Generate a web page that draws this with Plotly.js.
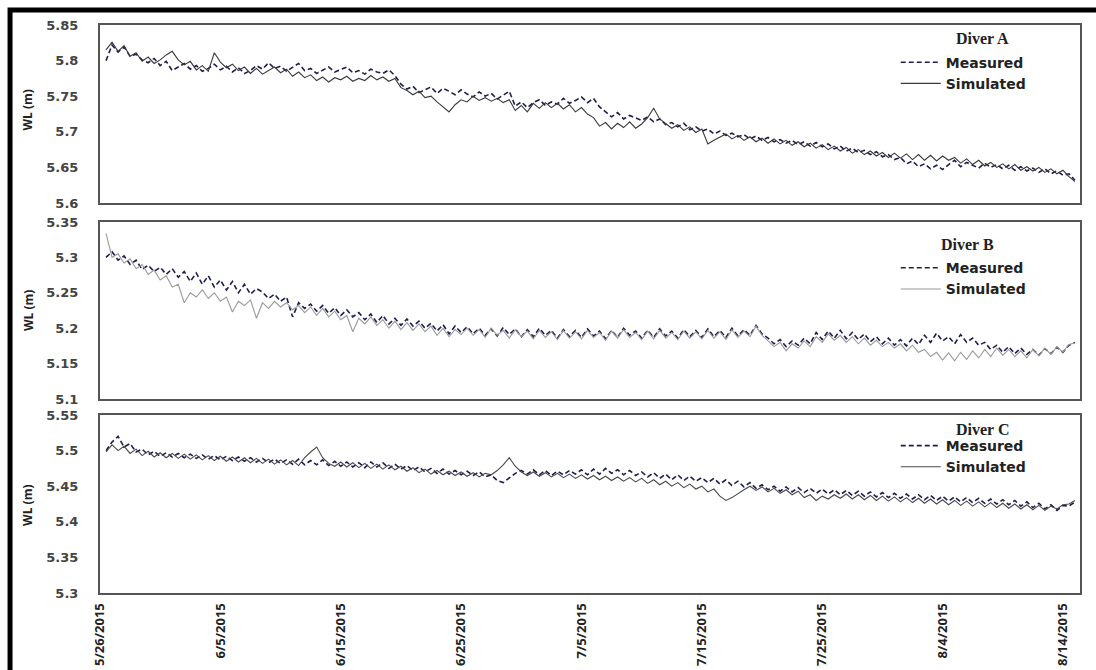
<!DOCTYPE html>
<html><head><meta charset="utf-8">
<script src="https://cdn.plot.ly/plotly-3.0.1.min.js"></script>
<style>html,body{margin:0;padding:0;background:#fff}#chart{width:1096px;height:670px}</style>
</head><body><div id="chart"></div>
<script>
// time index: first sample 2015-05-26 12:00, one sample every 12 hours
const startTime = Date.UTC(2015, 4, 26, 12, 0, 0);
const stepHours = 12;

const measuredA = [
5.800,5.822,5.812,5.819,5.806,5.809,5.801,5.797,5.803,5.793,
5.799,5.786,5.791,5.796,5.788,5.793,5.785,5.789,5.795,5.787,
5.792,5.784,5.790,5.782,5.786,5.793,5.788,5.797,5.789,5.792,
5.785,5.791,5.796,5.786,5.789,5.782,5.787,5.791,5.784,5.788,
5.791,5.783,5.786,5.781,5.788,5.784,5.782,5.787,5.779,5.767,
5.760,5.764,5.755,5.759,5.763,5.754,5.761,5.757,5.752,5.759,
5.753,5.749,5.756,5.750,5.754,5.746,5.751,5.757,5.736,5.742,
5.734,5.741,5.745,5.737,5.742,5.739,5.747,5.740,5.744,5.749,
5.741,5.747,5.735,5.728,5.721,5.727,5.718,5.723,5.720,5.716,
5.721,5.714,5.718,5.710,5.713,5.707,5.712,5.703,5.707,5.701,
5.704,5.697,5.701,5.695,5.698,5.693,5.696,5.690,5.694,5.688,
5.692,5.686,5.689,5.684,5.688,5.682,5.686,5.680,5.685,5.679,
5.683,5.676,5.680,5.673,5.677,5.671,5.674,5.668,5.672,5.665,
5.668,5.661,5.664,5.655,5.659,5.651,5.655,5.648,5.653,5.647,
5.654,5.660,5.651,5.657,5.653,5.649,5.656,5.650,5.654,5.648,
5.653,5.646,5.651,5.645,5.649,5.643,5.648,5.641,5.645,5.639,
5.641,5.632];
const simulatedA = [
5.815,5.826,5.813,5.821,5.806,5.811,5.799,5.805,5.796,5.801,
5.808,5.813,5.801,5.794,5.799,5.787,5.793,5.785,5.811,5.798,
5.790,5.795,5.786,5.791,5.782,5.789,5.781,5.786,5.791,5.783,
5.788,5.778,5.784,5.776,5.780,5.772,5.777,5.770,5.776,5.773,
5.778,5.771,5.775,5.772,5.779,5.773,5.777,5.771,5.775,5.762,
5.758,5.752,5.757,5.748,5.750,5.742,5.735,5.728,5.738,5.745,
5.742,5.750,5.744,5.748,5.743,5.747,5.741,5.745,5.730,5.737,
5.728,5.740,5.733,5.741,5.734,5.740,5.732,5.738,5.728,5.734,
5.725,5.720,5.708,5.713,5.704,5.712,5.706,5.714,5.705,5.711,
5.720,5.733,5.718,5.712,5.705,5.710,5.702,5.707,5.699,5.704,
5.683,5.688,5.692,5.697,5.690,5.695,5.688,5.693,5.686,5.691,
5.684,5.690,5.683,5.688,5.681,5.686,5.679,5.684,5.677,5.682,
5.675,5.680,5.673,5.678,5.670,5.675,5.668,5.673,5.666,5.671,
5.664,5.670,5.663,5.669,5.661,5.668,5.660,5.667,5.659,5.666,
5.660,5.664,5.656,5.662,5.654,5.660,5.652,5.657,5.650,5.655,
5.648,5.654,5.646,5.651,5.645,5.650,5.643,5.648,5.641,5.646,
5.637,5.630];

const measuredB = [
5.300,5.308,5.296,5.302,5.290,5.296,5.283,5.289,5.280,5.286,
5.276,5.284,5.272,5.280,5.266,5.278,5.262,5.274,5.258,5.268,
5.254,5.266,5.250,5.262,5.248,5.256,5.251,5.242,5.248,5.238,
5.244,5.216,5.236,5.228,5.234,5.224,5.232,5.221,5.229,5.218,
5.226,5.216,5.222,5.212,5.220,5.208,5.218,5.206,5.214,5.204,
5.213,5.203,5.210,5.200,5.207,5.196,5.205,5.192,5.203,5.194,
5.202,5.192,5.200,5.190,5.199,5.189,5.201,5.191,5.199,5.188,
5.198,5.188,5.200,5.190,5.197,5.186,5.198,5.188,5.197,5.187,
5.199,5.189,5.196,5.185,5.197,5.187,5.200,5.190,5.196,5.186,
5.197,5.187,5.199,5.189,5.196,5.186,5.198,5.188,5.197,5.187,
5.199,5.188,5.197,5.187,5.200,5.189,5.198,5.190,5.204,5.192,
5.186,5.178,5.184,5.174,5.182,5.176,5.186,5.178,5.194,5.184,
5.196,5.186,5.197,5.185,5.194,5.184,5.192,5.181,5.188,5.178,
5.186,5.176,5.184,5.175,5.186,5.177,5.190,5.180,5.193,5.182,
5.188,5.178,5.191,5.180,5.186,5.176,5.180,5.170,5.176,5.166,
5.174,5.164,5.172,5.163,5.170,5.162,5.171,5.164,5.173,5.166,
5.176,5.180];
const simulatedB = [
5.334,5.300,5.305,5.292,5.298,5.284,5.290,5.276,5.282,5.268,
5.274,5.258,5.262,5.236,5.250,5.244,5.254,5.242,5.250,5.238,
5.244,5.223,5.238,5.232,5.240,5.214,5.236,5.228,5.238,5.230,
5.236,5.226,5.232,5.222,5.230,5.218,5.228,5.216,5.224,5.212,
5.218,5.195,5.214,5.206,5.216,5.204,5.212,5.200,5.210,5.198,
5.208,5.197,5.206,5.195,5.203,5.190,5.200,5.188,5.198,5.191,
5.200,5.190,5.198,5.187,5.200,5.190,5.197,5.186,5.198,5.188,
5.196,5.185,5.197,5.187,5.195,5.184,5.197,5.186,5.195,5.185,
5.197,5.187,5.194,5.183,5.196,5.186,5.198,5.187,5.194,5.184,
5.196,5.185,5.197,5.186,5.194,5.184,5.196,5.186,5.195,5.185,
5.197,5.186,5.195,5.184,5.198,5.187,5.196,5.188,5.203,5.190,
5.182,5.174,5.180,5.168,5.178,5.172,5.182,5.174,5.188,5.180,
5.192,5.183,5.190,5.180,5.188,5.178,5.186,5.176,5.183,5.174,
5.180,5.172,5.178,5.168,5.176,5.166,5.170,5.160,5.166,5.155,
5.165,5.154,5.166,5.156,5.168,5.158,5.170,5.160,5.172,5.162,
5.170,5.160,5.168,5.158,5.170,5.161,5.172,5.163,5.174,5.166,
5.177,5.179];

const measuredC = [
5.500,5.512,5.520,5.505,5.510,5.498,5.502,5.494,5.499,5.492,
5.497,5.491,5.496,5.490,5.495,5.489,5.494,5.488,5.493,5.487,
5.492,5.486,5.491,5.485,5.490,5.484,5.489,5.483,5.488,5.482,
5.487,5.481,5.488,5.480,5.486,5.480,5.487,5.479,5.485,5.478,
5.484,5.477,5.483,5.476,5.484,5.477,5.483,5.475,5.481,5.474,
5.479,5.472,5.477,5.470,5.475,5.468,5.474,5.467,5.472,5.466,
5.471,5.465,5.470,5.463,5.466,5.458,5.455,5.462,5.468,5.472,
5.467,5.473,5.466,5.472,5.465,5.471,5.466,5.472,5.467,5.473,
5.466,5.474,5.467,5.475,5.468,5.473,5.466,5.472,5.465,5.470,
5.463,5.469,5.461,5.467,5.459,5.466,5.458,5.464,5.457,5.462,
5.455,5.461,5.453,5.459,5.451,5.457,5.449,5.455,5.447,5.452,
5.445,5.450,5.443,5.449,5.442,5.448,5.441,5.447,5.440,5.446,
5.439,5.445,5.438,5.444,5.437,5.443,5.436,5.442,5.435,5.441,
5.434,5.440,5.433,5.439,5.432,5.438,5.431,5.437,5.430,5.436,
5.429,5.435,5.428,5.434,5.427,5.433,5.426,5.432,5.425,5.431,
5.424,5.430,5.422,5.428,5.420,5.426,5.418,5.424,5.416,5.423,
5.422,5.428];
const simulatedC = [
5.498,5.508,5.500,5.506,5.496,5.502,5.493,5.499,5.491,5.497,
5.490,5.496,5.489,5.495,5.488,5.494,5.487,5.493,5.486,5.492,
5.485,5.491,5.484,5.490,5.483,5.489,5.482,5.488,5.481,5.487,
5.480,5.486,5.479,5.490,5.498,5.505,5.490,5.482,5.478,5.484,
5.477,5.483,5.476,5.482,5.475,5.481,5.474,5.480,5.473,5.478,
5.471,5.476,5.469,5.474,5.467,5.472,5.466,5.471,5.465,5.470,
5.464,5.469,5.463,5.468,5.466,5.472,5.480,5.490,5.478,5.470,
5.465,5.470,5.464,5.469,5.463,5.468,5.462,5.467,5.461,5.466,
5.460,5.465,5.459,5.464,5.458,5.463,5.457,5.462,5.456,5.461,
5.454,5.459,5.452,5.457,5.450,5.455,5.448,5.453,5.446,5.450,
5.442,5.446,5.436,5.430,5.434,5.440,5.445,5.450,5.444,5.449,
5.442,5.447,5.440,5.445,5.438,5.443,5.434,5.438,5.430,5.436,
5.432,5.438,5.433,5.439,5.432,5.438,5.431,5.437,5.430,5.436,
5.429,5.435,5.428,5.434,5.427,5.433,5.426,5.432,5.425,5.431,
5.424,5.430,5.423,5.429,5.422,5.428,5.421,5.427,5.420,5.426,
5.419,5.425,5.418,5.424,5.417,5.423,5.416,5.422,5.418,5.424,
5.425,5.430];

const panelNames = ['Diver A', 'Diver B', 'Diver C'];
const seriesNames = ['Measured', 'Simulated'];
const xTickDates = ['2015-05-26','2015-06-05','2015-06-15','2015-06-25','2015-07-05','2015-07-15','2015-07-25','2015-08-04','2015-08-14'];
const xTickLabels = ['5/26/2015','6/5/2015','6/15/2015','6/25/2015','7/5/2015','7/15/2015','7/25/2015','8/4/2015','8/14/2015'];
const yTicksA = [5.6, 5.65, 5.7, 5.75, 5.8, 5.85];
const yLabelsA = ['5.6','5.65','5.7','5.75','5.8','5.85'];
const yTicksB = [5.1, 5.15, 5.2, 5.25, 5.3, 5.35];
const yLabelsB = ['5.1','5.15','5.2','5.25','5.3','5.35'];
const yTicksC = [5.3, 5.35, 5.4, 5.45, 5.5, 5.55];
const yLabelsC = ['5.3','5.35','5.4','5.45','5.5','5.55'];
const xRange = ['2015-05-26 00:00', '2015-08-15 10:00'];

function timeAxis(n) {
  const out = [];
  for (let i = 0; i < n; i++) {
    out.push(new Date(startTime + i * stepHours * 3600e3).toISOString().slice(0, 16).replace('T', ' '));
  }
  return out;
}

const panels = [
  {m: measuredA, s: simulatedA, sim: '#3a3a3a', ticks: yTicksA, labels: yLabelsA, dom: [0.6866, 1.0]},
  {m: measuredB, s: simulatedB, sim: '#9a9a9a', ticks: yTicksB, labels: yLabelsB, dom: [0.3415, 0.6532]},
  {m: measuredC, s: simulatedC, sim: '#4a4a4a', ticks: yTicksC, labels: yLabelsC, dom: [0.0, 0.3134]}
];

const traces = [];
const layout = {
  width: 1096, height: 670,
  margin: {l: 100, r: 16, t: 25, b: 77},
  paper_bgcolor: '#fff', plot_bgcolor: '#fff',
  showlegend: true,
  annotations: [], shapes: []
};
const legendY = [0.962, 0.600, 0.287];
const titleX = [0.901, 0.885, 0.900];
const titleY = [0.9754, 0.6127, 0.2870];
const axisTitleY = [0.851, 0.498, 0.155];

panels.forEach((p, k) => {
  const sfx = k === 0 ? '' : String(k + 1);
  const leg = 'legend' + sfx;
  const t = timeAxis(p.m.length);
  traces.push({
    x: t, y: p.m, type: 'scatter', mode: 'lines', name: seriesNames[0],
    xaxis: 'x' + sfx, yaxis: 'y' + sfx, legend: leg,
    line: {color: '#1e1e52', width: 1.6, dash: '5px,3px'}
  });
  traces.push({
    x: t, y: p.s, type: 'scatter', mode: 'lines', name: seriesNames[1],
    xaxis: 'x' + sfx, yaxis: 'y' + sfx, legend: leg,
    line: {color: p.sim, width: 1.1}
  });
  layout['xaxis' + sfx] = {
    anchor: 'y' + sfx, range: xRange, type: 'date',
    tickmode: 'array', tickvals: xTickDates, ticktext: xTickLabels,
    showticklabels: k === 2, tickangle: -90, ticks: '',
    ticklabelstandoff: 3,
    tickfont: {family: 'Open Sans, sans-serif', size: 13, color: '#222', weight: 'bold'},
    showgrid: false, zeroline: false,
    showline: true, linecolor: '#555', linewidth: 2, mirror: true
  };
  layout['yaxis' + sfx] = {
    anchor: 'x' + sfx, domain: p.dom, range: [p.ticks[0], p.ticks[p.ticks.length - 1]],
    tickmode: 'array', tickvals: p.ticks, ticktext: p.labels, ticks: '',
    ticklabelstandoff: 17,
    tickfont: {family: 'DejaVu Sans, sans-serif', size: 13, color: '#444', weight: 'bold'},
    showgrid: false, zeroline: false,
    showline: true, linecolor: '#555', linewidth: 2, mirror: true
  };
  layout[leg] = {
    x: 0.812, y: legendY[k], xanchor: 'left', yanchor: 'top',
    bgcolor: 'rgba(0,0,0,0)', borderwidth: 0, traceorder: 'normal',
    font: {family: 'DejaVu Sans, sans-serif', size: 14, color: '#222', weight: 'bold'},
    itemwidth: 40, tracegroupgap: 0
  };
  layout.annotations.push({
    text: panelNames[k], xref: 'paper', yref: 'paper', x: titleX[k], y: titleY[k],
    xanchor: 'center', yanchor: 'middle', showarrow: false,
    font: {family: 'Liberation Serif, serif', size: 16, color: '#222', weight: 'bold'}
  });
  layout.annotations.push({
    text: 'WL (m)', xref: 'paper', yref: 'paper', x: -0.0735, y: axisTitleY[k],
    xanchor: 'center', yanchor: 'middle', textangle: -90, showarrow: false,
    font: {family: 'Open Sans, sans-serif', size: 12, color: '#222', weight: 'bold'}
  });
});

layout.shapes.push({
  type: 'rect', xref: 'paper', yref: 'paper',
  x0: -0.0918, x1: 1.04, y0: -0.19, y1: 1.0264,
  line: {color: '#000', width: 5}, fillcolor: 'rgba(0,0,0,0)', layer: 'above'
});

Plotly.newPlot('chart', traces, layout, {displayModeBar: false, staticPlot: true});
</script>
</body></html>
